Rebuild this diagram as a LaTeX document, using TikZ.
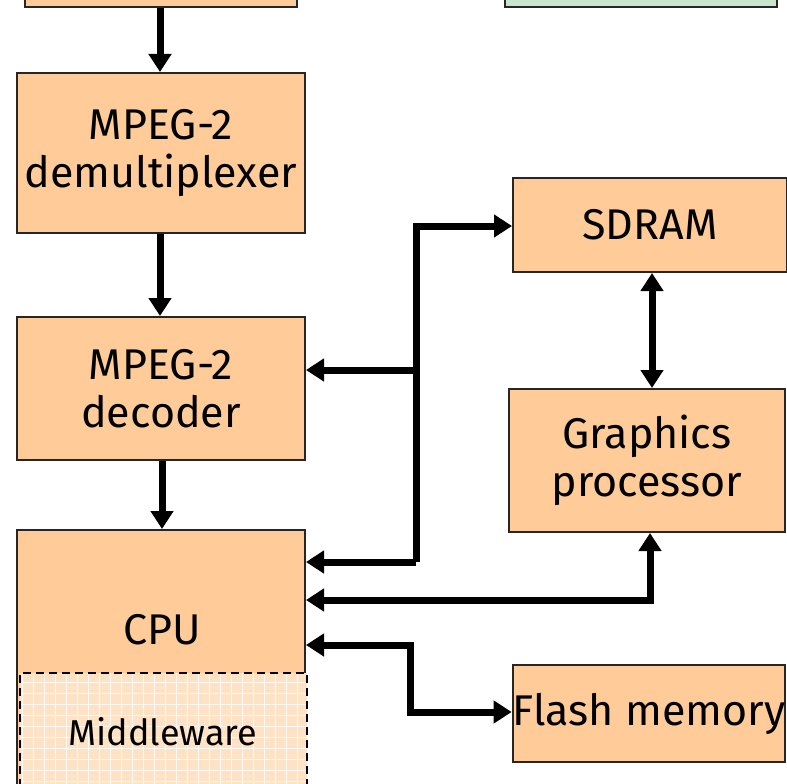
\documentclass[tikz,border=0pt]{standalone}
\usepackage{fontspec}
\setmainfont{Fira Sans}
\usetikzlibrary{arrows.meta}
\definecolor{boxorange}{HTML}{FFCC99}
\definecolor{boxgreen}{HTML}{C8E6CE}
\definecolor{mwfill}{HTML}{FEE2C6}
\tikzset{
  blk/.style={draw=black!85, line width=2pt, fill=boxorange, inner sep=0pt, align=center,
    font=\fontsize{43}{48}\selectfont},
  arr/.style={line width=7pt, -{Triangle[length=18pt,width=22pt]}},
  arrtwo/.style={line width=7pt, {Triangle[length=18pt,width=22pt]}-{Triangle[length=18pt,width=22pt]}},
}
\begin{document}
\begin{tikzpicture}[x=1pt,y=-1pt]
\useasboundingbox (0,0) rectangle (787,784);
\clip (0,0) rectangle (787,784);
% top boxes (cut off)
\node[blk, minimum width=272pt, minimum height=60pt] (top) at (161,-23) {};
\node[blk, fill=boxgreen, minimum width=272pt, minimum height=60pt] (topgreen) at (641,-23) {};
% left column
\node[blk, minimum width=288pt, minimum height=160pt] (demux) at (161,153) {MPEG-2\\demultiplexer};
\node[blk, minimum width=288pt, minimum height=143pt] (decoder) at (161,388.5) {MPEG-2\\decoder};
\node[blk, minimum width=288pt, minimum height=290pt] (cpu) at (161,675) {};
\node[font=\fontsize{43}{48}\selectfont] (cpulabel) at (162,630) {CPU};
% middleware
\fill[mwfill] (20,673) rectangle (307,800);
\begin{scope}
\clip (20,673) rectangle (307,800);
\draw[white, line width=0.6pt, opacity=0.8] (20,673) grid[step=11pt] (320,800);
\end{scope}
\draw[black, line width=2pt, dash pattern=on 8pt off 5pt] (20,800) -- (20,673) -- (307,673) -- (307,800);
\node[font=\fontsize{36}{40}\selectfont] (mw) at (163,732) {Middleware};
% right column
\node[blk, minimum width=274pt, minimum height=94pt] (sdram) at (650,225) {SDRAM};
\node[blk, minimum width=276pt, minimum height=143pt] (gp) at (647,460.5) {Graphics\\processor};
\node[blk, minimum width=272pt, minimum height=97pt] (flash) at (649,713.5) {Flash memory};
% coordinates
\coordinate (busTop) at (416,226);
\coordinate (busMid) at (416,370);
\coordinate (busBot) at (416,562);
\coordinate (gpCorner) at (650,600);
\coordinate (flA) at (410,645);
\coordinate (flB) at (410,712);
% arrows
\draw[arr] (top.south -| 160,0) -- (demux.north -| 160,0);
\draw[arr] (demux.south -| 160,0) -- (decoder.north -| 160,0);
\draw[arr] (decoder.south -| 162,0) -- (cpu.north -| 162,0);
\draw[arr] (busBot) -- (busTop) -- (sdram.west |- busTop);
\draw[arr] (busMid) -- (decoder.east |- busMid);
\draw[arr] (busBot) -- (cpu.east |- busBot);
\draw[arrtwo] (sdram.south -| 652,0) -- (gp.north -| 652,0);
\draw[arrtwo] (cpu.east |- gpCorner) -- (gpCorner) -- (gp.south -| gpCorner);
\draw[arrtwo] (cpu.east |- flA) -- (flA) -- (flB) -- (flash.west |- flB);
\end{tikzpicture}
\end{document}
